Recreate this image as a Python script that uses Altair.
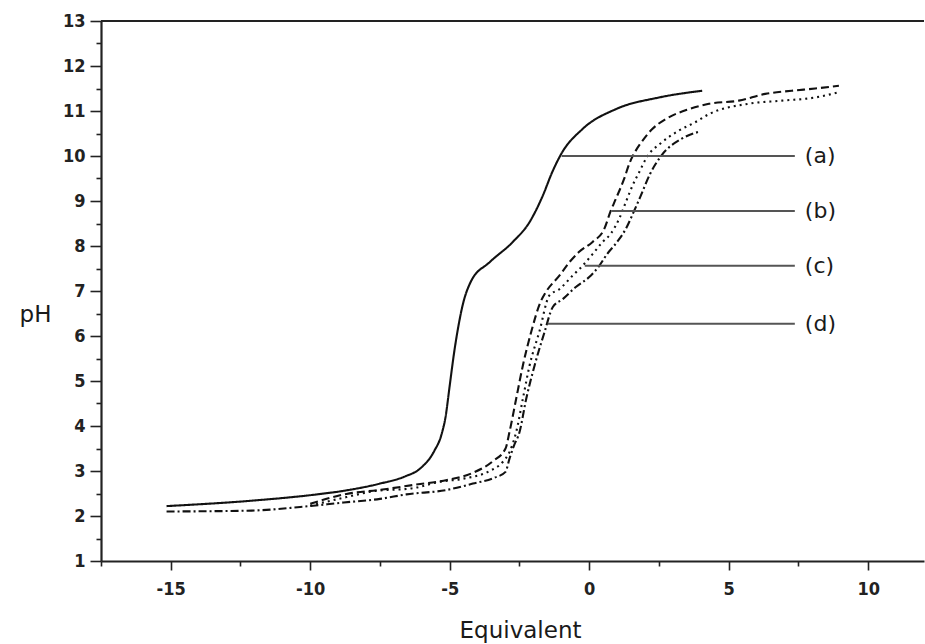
import altair as alt
import pandas as pd

# ---- data ----
a_x = [-15.15, -12.1, -9.9, -8.8, -7.5, -6.6, -6.07, -5.55, -5.3, -5.15, -5.0, -4.85, -4.68, -4.55, -4.25, -3.57, -2.74, -2.14, -1.67, -1.32, -1.0, -0.24, 0.95, 2.5, 4.05]
a_y = [2.22, 2.34, 2.47, 2.56, 2.72, 2.88, 3.05, 3.45, 3.8, 4.2, 4.9, 5.6, 6.25, 6.65, 7.2, 7.64, 8.09, 8.53, 9.11, 9.65, 10.05, 10.6, 11.04, 11.3, 11.45]

b_x = [-10.0, -8.7, -7.5, -6.3, -5.1, -4.17, -3.45, -3.0, -2.86, -2.62, -2.38, -2.08, -1.75, -1.55, -1.07, -0.71, -0.36, 0.12, 0.54, 0.77, 0.95, 1.25, 1.45, 1.65, 1.9, 2.26, 2.74, 3.57, 4.29, 5.36, 6.31, 7.26, 8.1, 8.95]
b_y = [2.27, 2.49, 2.58, 2.69, 2.8, 2.96, 3.22, 3.5, 3.86, 4.6, 5.34, 6.09, 6.75, 6.98, 7.34, 7.64, 7.87, 8.09, 8.38, 8.78, 9.04, 9.49, 9.85, 10.1, 10.33, 10.6, 10.82, 11.04, 11.16, 11.23, 11.38, 11.45, 11.5, 11.56]

c_x = [-10.0, -8.7, -7.74, -6.3, -5.36, -4.5, -3.57, -3.1, -2.86, -2.62, -2.38, -2.14, -1.79, -1.43, -1.07, -0.6, -0.24, 0.12, 0.48, 0.77, 1.07, 1.31, 1.55, 1.79, 2.07, 2.6, 3.2, 3.8, 4.29, 5.7, 6.9, 8.1, 8.95]
c_y = [2.23, 2.42, 2.55, 2.62, 2.76, 2.83, 3.0, 3.2, 3.42, 3.86, 4.6, 5.34, 6.09, 6.9, 7.04, 7.34, 7.56, 7.82, 8.09, 8.27, 8.6, 8.97, 9.34, 9.64, 9.98, 10.3, 10.56, 10.75, 10.93, 11.16, 11.23, 11.3, 11.42]

d_x = [-15.15, -12.1, -10.36, -8.8, -7.5, -6.55, -5.1, -4.17, -3.4, -3.0, -2.86, -2.7, -2.5, -2.26, -1.96, -1.6, -1.31, -0.95, -0.48, 0.0, 0.36, 0.64, 1.0, 1.31, 1.61, 1.85, 2.18, 2.6, 3.3, 4.0]
d_y = [2.1, 2.12, 2.2, 2.3, 2.38, 2.48, 2.58, 2.72, 2.85, 2.98, 3.27, 3.56, 3.86, 4.6, 5.34, 6.09, 6.64, 6.82, 7.09, 7.31, 7.56, 7.82, 8.09, 8.38, 8.78, 9.12, 9.6, 10.02, 10.38, 10.55]

label_names = ["(a)", "(b)", "(c)", "(d)"]
label_y = [10.0, 8.78, 7.56, 6.27]
label_x_start = [-0.99, 0.80, -0.16, -1.49]
label_x_end = [7.37, 7.37, 7.37, 7.37]
label_text_x = [7.73, 7.73, 7.73, 7.73]

series = [
    ("a", a_x, a_y, [1, 0]),
    ("b", b_x, b_y, [8, 4]),
    ("c", c_x, c_y, [2, 4]),
    ("d", d_x, d_y, [8, 3, 2, 3]),
]

FONT = "DejaVu Sans"
TICKFONT = "'DejaVu Sans Condensed', 'DejaVu Sans'"
x_scale = alt.Scale(domain=[-17.5, 12], nice=False, zero=False)
y_scale = alt.Scale(domain=[1, 13], nice=False, zero=False)

x_vals = [-17.5 + 2.5 * i for i in range(12)]
y_vals = [1 + 0.5 * i for i in range(25)]

x_axis = alt.Axis(
    values=x_vals,
    labelExpr="datum.value % 5 == 0 ? '' + datum.value : ''",
    tickSize={"condition": {"test": "datum.value % 5 == 0", "value": 9}, "value": 5},
    tickColor="#222", tickWidth=1.6, domainColor="#222", domainWidth=2.2,
    labelFont=TICKFONT, labelFontSize=18, labelFontWeight="bold", labelColor="#222",
    labelPadding=10, grid=False,
    title="Equivalent", titleFont=FONT, titleFontSize=23, titleFontWeight="normal",
    titleColor="#1a1a1a", titleX=419, titleY=69, titleBaseline="middle", titleAlign="center",
)
y_axis = alt.Axis(
    values=y_vals,
    labelExpr="datum.value % 1 == 0 ? '' + datum.value : ''",
    tickSize={"condition": {"test": "datum.value % 1 == 0", "value": 11}, "value": 5},
    tickColor="#222", tickWidth=1.6, domainColor="#222", domainWidth=2.2,
    labelFont=TICKFONT, labelFontSize=18, labelFontWeight="bold", labelColor="#222",
    labelPadding=5, grid=False,
    title="pH", titleFont=FONT, titleFontSize=23, titleFontWeight="normal",
    titleColor="#1a1a1a", titleAngle=0, titleX=-66, titleY=293,
    titleBaseline="middle", titleAlign="center",
)

def X(field):
    return alt.X(field, scale=x_scale, axis=x_axis)

def Y(field):
    return alt.Y(field, scale=y_scale, axis=y_axis)

layers = []
for name, xs, ys, dash in series:
    df = pd.DataFrame({"x": xs, "y": ys, "o": range(len(xs))})
    layers.append(
        alt.Chart(df).mark_line(color="#111", strokeWidth=2.1, strokeDash=dash,
                                interpolate="monotone").encode(
            x=X("x:Q"), y=Y("y:Q"), order="o:O")
    )

lab = pd.DataFrame({"name": label_names, "y": label_y, "x1": label_x_start,
                    "x2": label_x_end, "tx": label_text_x})
rules = alt.Chart(lab).mark_rule(color="#555", strokeWidth=2).encode(
    x=X("x1:Q"), x2="x2:Q", y=Y("y:Q"))
texts = alt.Chart(lab).mark_text(font=FONT, fontSize=22, align="left",
                                 baseline="middle", color="#1a1a1a").encode(
    x=X("tx:Q"), y=Y("y:Q"), text="name:N")

# top frame line
top = alt.Chart(pd.DataFrame({"x": [-17.5], "x2": [12]})).mark_rule(
    color="#222", strokeWidth=2.2).encode(
    x=X("x:Q"), x2="x2:Q", y=alt.value(0))

chart = alt.layer(*layers, rules, texts, top).properties(
    width=823, height=540,
    autosize=alt.AutoSizeParams(type="none"),
    padding={"left": 101, "top": 21, "right": 1, "bottom": 83},
    background="white",
).configure_view(stroke=None)

chart.save("out.html", embed_options={"renderer": "svg", "actions": False})
